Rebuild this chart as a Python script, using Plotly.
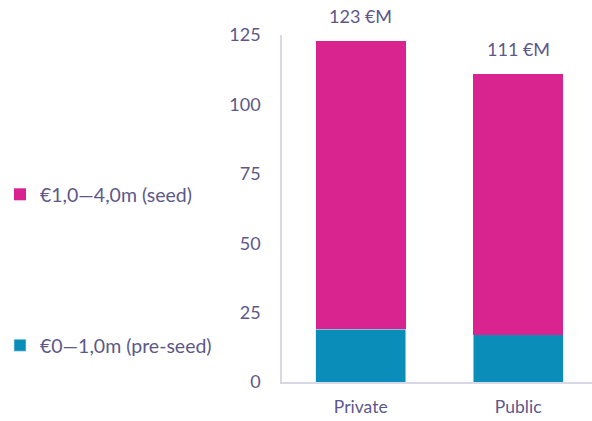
import plotly.graph_objects as go

# Funding volume by investor type, split by ticket size (in €M)
categories = ["Private", "Public"]
pre_seed = [19, 17]        # €0—1,0m (pre-seed)
totals = [123, 111]        # stated totals above the bars
seed = [t - p for t, p in zip(totals, pre_seed)]   # €1,0—4,0m (seed)
total_labels = ["123 €M", "111 €M"]
y_ticks = [0, 25, 50, 75, 100, 125]

TEXT = "#5d5889"
TEAL = "#0b8dba"
MAGENTA = "#d92490"
AXIS = "#d8d8e6"
FONT = "Lato"

fig = go.Figure()
fig.add_trace(go.Bar(
    x=categories, y=pre_seed, name="€0—1,0m (pre-seed)",
    marker=dict(color=TEAL, line=dict(width=0.6, color="#cfe6f2")),
    legend="legend2", showlegend=True, width=0.57,
))
fig.add_trace(go.Bar(
    x=categories, y=seed, name="€1,0—4,0m (seed)",
    marker=dict(color=MAGENTA, line=dict(width=0)),
    legend="legend", showlegend=True, width=0.57,
))

for cat, tot, lab in zip(categories, totals, total_labels):
    fig.add_annotation(x=cat, y=tot, text=lab, showarrow=False,
                       yanchor="bottom", yshift=12,
                       font=dict(family=FONT, size=18, color=TEXT))

legend_style = dict(xanchor="left", yanchor="middle",
                    font=dict(family=FONT, size=19.5, color=TEXT),
                    bgcolor="rgba(0,0,0,0)", itemwidth=30)

fig.update_layout(
    width=592, height=421,
    margin=dict(l=279, r=0, t=35, b=39),
    barmode="stack",
    showlegend=True,
    paper_bgcolor="white", plot_bgcolor="white",
    font=dict(family=FONT, size=18, color=TEXT),
    legend=dict(x=-0.912, y=0.54, **legend_style),
    legend2=dict(x=-0.912, y=0.105, **legend_style),
    xaxis=dict(range=[-0.5, 1.469], showline=True, linecolor=AXIS, linewidth=1.5,
               showgrid=False, ticks="", ticklabelstandoff=8,
               tickfont=dict(family=FONT, size=17.5, color=TEXT)),
    yaxis=dict(range=[0, 125], tickvals=y_ticks, showline=True, linecolor=AXIS,
               linewidth=1.5, showgrid=False, zeroline=False, ticks="",
               ticklabelstandoff=16,
               tickfont=dict(family=FONT, size=18, color=TEXT)),
)

fig.write_html("out.html")
